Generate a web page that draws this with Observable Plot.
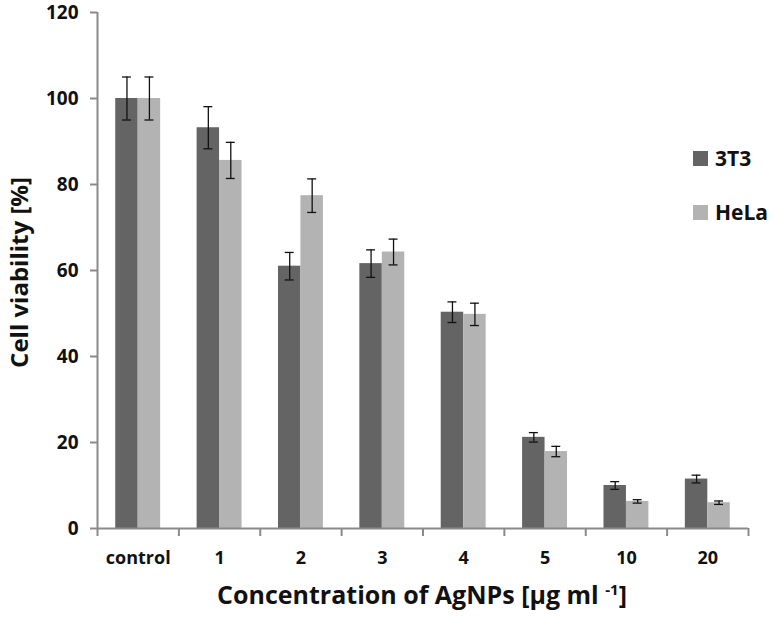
<!DOCTYPE html>
<html>
<head>
<meta charset="utf-8">
<script src="https://cdn.jsdelivr.net/npm/d3@7"></script>
<script src="https://cdn.jsdelivr.net/npm/@observablehq/plot@0.6"></script>
<style>
  html, body { margin: 0; padding: 0; background: #fff; }
  #wrap { position: relative; width: 774px; height: 617px; font-family: "Open Sans", Lato, sans-serif; }
  #xtitle { position: absolute; left: 0; width: 844px; top: 577px; text-align: center; font-size: 25px; font-weight: 700; color: #111; }
  #xtitle sup { font-size: 15px; vertical-align: 9px; }
  .leg { position: absolute; left: 693px; display: flex; align-items: center; font-size: 21px; font-weight: 700; color: #111; }
  .leg span.sw { display: inline-block; width: 15px; height: 15px; margin-right: 7px; }
</style>
</head>
<body>
<div id="wrap"></div>
<script>
const categories = ["control", "1", "2", "3", "4", "5", "10", "20"];
const seriesNames = ["3T3", "HeLa"];
const values3T3 = [100, 93.2, 61.0, 61.6, 50.3, 21.2, 10.0, 11.5];
const errors3T3 = [5.0, 4.9, 3.2, 3.2, 2.4, 1.1, 0.9, 0.9];
const valuesHeLa = [100, 85.6, 77.4, 64.3, 49.8, 17.9, 6.3, 6.0];
const errorsHeLa = [5.0, 4.2, 3.9, 3.0, 2.6, 1.2, 0.4, 0.4];
const yTicks = [0, 20, 40, 60, 80, 100, 120];
const colors = ["#646464", "#b3b3b3"];
const xTitle = "Concentration of AgNPs [µg ml ";
const yTitle = "Cell viability [%]";

const rows = [];
categories.forEach((c, i) => {
  rows.push({cat: c, i, s: 0, series: seriesNames[0], value: values3T3[i], err: errors3T3[i]});
  rows.push({cat: c, i, s: 1, series: seriesNames[1], value: valuesHeLa[i], err: errorsHeLa[i]});
});

const barW = 0.276;   // fraction of a category band per bar
const capW = 0.055;
const ctr = d => d.i + (d.s === 0 ? -barW / 2 : barW / 2);

const axisColor = "#8a8a8a";
const fontFam = "'Open Sans', Lato, sans-serif";

const chart = Plot.plot({
  width: 774,
  height: 617,
  marginLeft: 97,
  marginRight: 26,
  marginTop: 12,
  marginBottom: 89,
  style: {fontFamily: fontFam, background: "#fff"},
  x: {type: "linear", domain: [-0.5, categories.length - 0.5], axis: null},
  y: {domain: [0, 120], axis: null},
  color: {domain: seriesNames, range: colors},
  marks: [
    Plot.rectY(rows, {
      x1: d => d.s === 0 ? d.i - barW : d.i,
      x2: d => d.s === 0 ? d.i : d.i + barW,
      y1: 0,
      y2: "value",
      fill: "series"
    }),
    Plot.ruleX(rows, {x: ctr, y1: d => d.value - d.err, y2: d => d.value + d.err, stroke: "#111", strokeWidth: 1.3}),
    Plot.ruleY(rows, {x1: d => ctr(d) - capW, x2: d => ctr(d) + capW, y: d => d.value + d.err, stroke: "#111", strokeWidth: 1.3}),
    Plot.ruleY(rows, {x1: d => ctr(d) - capW, x2: d => ctr(d) + capW, y: d => d.value - d.err, stroke: "#111", strokeWidth: 1.3}),
    Plot.ruleX([-0.5], {stroke: axisColor, strokeWidth: 2}),
    Plot.ruleY([0], {stroke: axisColor, strokeWidth: 2}),
    Plot.axisY({ticks: yTicks, tickSize: 7, tickPadding: 12, stroke: axisColor, strokeWidth: 2, fontSize: 19, fontWeight: 700, fill: "#111", label: null}),
    Plot.axisX({ticks: d3.range(-0.5, categories.length, 1), tickSize: 8, stroke: axisColor, strokeWidth: 2, tickFormat: () => "", label: null}),
    Plot.axisX({ticks: d3.range(categories.length), tickSize: 0, tickPadding: 23, tickFormat: i => categories[i], fontSize: 18, fontWeight: 700, fill: "#111", label: null}),
    Plot.text([yTitle], {frameAnchor: "left", textAnchor: "middle", dx: -77, dy: 2, rotate: -90, fontSize: 24, fontWeight: 700, fill: "#111"})
  ]
});

const wrap = document.getElementById("wrap");
wrap.appendChild(chart);

const xt = document.createElement("div");
xt.id = "xtitle";
xt.innerHTML = xTitle + "<sup>-1</sup>]";
wrap.appendChild(xt);

const legTops = [144, 198];
seriesNames.forEach((name, k) => {
  const d = document.createElement("div");
  d.className = "leg";
  d.style.top = legTops[k] + "px";
  d.innerHTML = `<span class="sw" style="background:${colors[k]}"></span><span>${name}</span>`;
  wrap.appendChild(d);
});
</script>
</body>
</html>
